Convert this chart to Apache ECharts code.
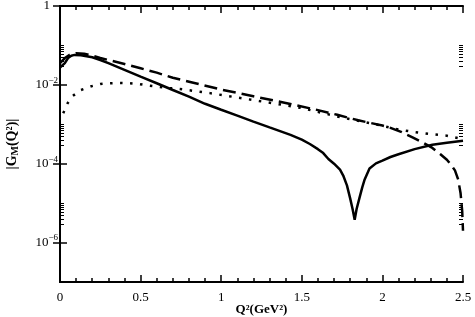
<!DOCTYPE html>
<html>
<head>
<meta charset="utf-8">
<script src="https://cdn.jsdelivr.net/npm/echarts@6/dist/echarts.min.js"></script>
<style>html,body{margin:0;padding:0;background:#fff;}#c{width:475px;height:317px;}</style>
</head>
<body>
<div id="c"></div>
<script>
// ---- data ----
const qSolid = [0, 0.03, 0.05, 0.07, 0.09, 0.13, 0.2, 0.25, 0.3, 0.4, 0.5, 0.6, 0.7, 0.8, 0.9, 1.0, 1.1, 1.2, 1.3, 1.43, 1.5, 1.55, 1.6, 1.633, 1.665, 1.7, 1.737, 1.757, 1.78, 1.8, 1.815, 1.828, 1.84, 1.857, 1.875, 1.89, 1.92, 1.96, 2.0, 2.05, 2.1, 2.2, 2.31, 2.4, 2.5];
const gSolid = [0.0275, 0.0355, 0.0479, 0.0550, 0.0575, 0.0562, 0.0501, 0.0427, 0.0355, 0.0240, 0.0162, 0.0110, 0.00741, 0.00501, 0.00331, 0.00234, 0.00166, 0.00117, 8.32e-4, 5.37e-4, 4.07e-4, 3.16e-4, 2.34e-4, 1.86e-4, 1.32e-4, 1.00e-4, 7.08e-5, 5.01e-5, 2.82e-5, 1.32e-5, 7.08e-6, 3.80e-6, 7.08e-6, 1.32e-5, 2.51e-5, 3.98e-5, 7.59e-5, 1.02e-4, 1.20e-4, 1.48e-4, 1.74e-4, 2.34e-4, 3.02e-4, 3.39e-4, 3.80e-4];

const qDashed = [0, 0.03, 0.06, 0.1, 0.15, 0.2, 0.25, 0.3, 0.4, 0.5, 0.6, 0.7, 0.84, 1.0, 1.2, 1.4, 1.6, 1.72, 1.85, 2.0, 2.05, 2.12, 2.19, 2.25, 2.31, 2.36, 2.4, 2.43, 2.45, 2.47, 2.485, 2.495, 2.5];
const gDashed = [0.0355, 0.0479, 0.0575, 0.0631, 0.0617, 0.0550, 0.0479, 0.0427, 0.0339, 0.0263, 0.0204, 0.0151, 0.0110, 0.00759, 0.00513, 0.00347, 0.00229, 0.00174, 0.00126, 9.33e-4, 8.13e-4, 6.31e-4, 4.57e-4, 3.47e-4, 2.51e-4, 1.74e-4, 1.26e-4, 8.91e-5, 6.76e-5, 3.98e-5, 1.78e-5, 6.31e-6, 2.00e-6];

const qDotted = [0.02, 0.048, 0.08, 0.13, 0.19, 0.25, 0.31, 0.37, 0.43, 0.49, 0.55, 0.61, 0.67, 0.73, 0.79, 0.93, 1.22, 1.49, 1.72, 1.85, 2.0, 2.1, 2.2, 2.3, 2.4, 2.5];
const gDotted = [0.00191, 0.00347, 0.00525, 0.00741, 0.00912, 0.0105, 0.0110, 0.0112, 0.0110, 0.0105, 0.00955, 0.00891, 0.00832, 0.00794, 0.00741, 0.00617, 0.00398, 0.00263, 0.00158, 0.00123, 9.12e-4, 7.41e-4, 6.31e-4, 5.62e-4, 5.13e-4, 4.17e-4];

const yMajorTicks = [1e-6, 1e-4, 1e-2, 1];
const yMinorTicks = [3e-6, 4e-6, 5e-6, 6e-6, 7e-6, 8e-6, 9e-6, 1e-5,
                     3e-4, 4e-4, 5e-4, 6e-4, 7e-4, 8e-4, 9e-4, 1e-3,
                     3e-2, 4e-2, 5e-2, 6e-2, 7e-2, 8e-2, 9e-2, 1e-1];
const xMin = 0, xMax = 2.5, xStep = 0.5;
const yMin = 1e-7, yMax = 1;

// ---- chart ----
const FONT = 'Liberation Serif';
const pairs = (xs, ys) => xs.map((x, i) => [x, ys[i]]);

const chart = echarts.init(document.getElementById('c'), null, {renderer: 'canvas'});

const axLine = {show: true, lineStyle: {color: '#000', width: 2}};
const baseX = {
  type: 'value', min: xMin, max: xMax, interval: xStep,
  axisLine: axLine,
  axisTick: {show: true, inside: true, length: 7, lineStyle: {color: '#000', width: 1.5}},
  minorTick: {show: true, splitNumber: 5, length: 4, lineStyle: {color: '#000', width: 1.5}},
  splitLine: {show: false}
};
const baseY = {
  type: 'log', logBase: 10, min: yMin, max: yMax,
  axisLine: axLine,
  splitLine: {show: false},
  minorSplitLine: {show: false}
};

chart.setOption({
  animation: false,
  backgroundColor: '#fff',
  grid: {left: 60, right: 12, top: 6, bottom: 35, containLabel: false, outerBoundsMode: 'none'},
  xAxis: [
    Object.assign({}, baseX, {
      position: 'bottom',
      name: 'Q²(GeV²)', nameLocation: 'middle', nameGap: 21, nameMoveOverlap: false,
      nameTextStyle: {fontFamily: FONT, fontSize: 13, fontWeight: 'bold', color: '#000'},
      axisLabel: {show: true, margin: 9, fontFamily: FONT, fontSize: 13, color: '#000'}
    }),
    Object.assign({}, baseX, {position: 'top', axisLabel: {show: false}})
  ],
  yAxis: [
    Object.assign({}, baseY, {
      position: 'left',
      axisTick: {show: true, inside: true, length: 7, customValues: yMajorTicks, lineStyle: {color: '#000', width: 1.5}},
      axisLabel: {
        show: true, margin: 2, customValues: yMajorTicks,
        formatter: function (v) {
          const e = Math.round(Math.log10(v));
          if (e === 0) return '{one|1}';
          return '{b|10}{s|−' + (-e) + '}';
        },
        rich: {
          one: {fontFamily: FONT, fontSize: 13, color: '#000', lineHeight: 18, padding: [0, 8, 0, 0]},
          b: {fontFamily: FONT, fontSize: 13, color: '#000', lineHeight: 18},
          s: {fontFamily: FONT, fontSize: 9, color: '#000', verticalAlign: 'top', lineHeight: 10}
        }
      },
      name: '{t||G}{m|M}{t|(Q²)|}', nameLocation: 'middle', nameGap: 40, nameRotate: 90, nameMoveOverlap: false,
      nameTextStyle: {
        rich: {
          t: {fontFamily: FONT, fontSize: 14, fontWeight: 'bold', color: '#000', lineHeight: 16},
          m: {fontFamily: FONT, fontSize: 10, fontWeight: 'bold', color: '#000', verticalAlign: 'bottom', lineHeight: 10}
        }
      }
    }),
    Object.assign({}, baseY, {
      position: 'right',
      axisTick: {show: true, inside: true, length: 7, customValues: yMajorTicks, lineStyle: {color: '#000', width: 1.5}},
      axisLabel: {show: false}
    }),
    Object.assign({}, baseY, {
      position: 'left', axisLine: {show: false},
      axisTick: {show: true, inside: true, length: 4, customValues: yMinorTicks, lineStyle: {color: '#000', width: 1}},
      axisLabel: {show: false}
    }),
    Object.assign({}, baseY, {
      position: 'right', axisLine: {show: false},
      axisTick: {show: true, inside: true, length: 4, customValues: yMinorTicks, lineStyle: {color: '#000', width: 1}},
      axisLabel: {show: false}
    })
  ],
  series: [
    {type: 'line', name: 'solid', data: pairs(qSolid, gSolid), showSymbol: false, symbol: 'none',
     lineStyle: {color: '#000', width: 2.5, type: 'solid'}},
    {type: 'line', name: 'dashed', data: pairs(qDashed, gDashed), showSymbol: false, symbol: 'none',
     lineStyle: {color: '#000', width: 2.5, type: [13, 6]}},
    {type: 'line', name: 'dotted', data: pairs(qDotted, gDotted), showSymbol: false, symbol: 'none',
     lineStyle: {color: '#000', width: 2.5, type: [2.5, 7.5]}}
  ]
});
</script>
</body>
</html>
